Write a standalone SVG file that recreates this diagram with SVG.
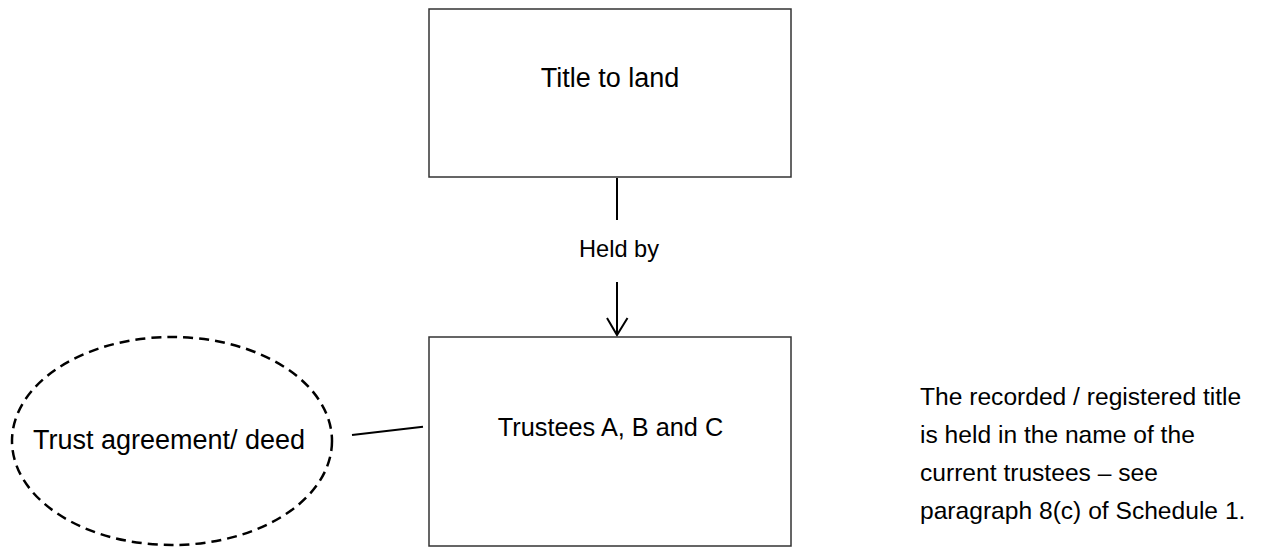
<svg xmlns="http://www.w3.org/2000/svg" width="1263" height="547" viewBox="0 0 1263 547">
<style>
.box{fill:#fff;stroke:#333;stroke-width:1.5}
.oval{fill:none;stroke:#000;stroke-width:2.5;stroke-dasharray:10 6}
.edge{fill:none;stroke:#000;stroke-width:2}
text{font-family:"Liberation Sans",Arial,sans-serif;fill:#000}
.c{text-anchor:middle}
</style>
<defs>
<marker id="arr" markerUnits="userSpaceOnUse" markerWidth="30" markerHeight="30" refX="12" refY="19" orient="auto-start-reverse" viewBox="0 0 24 22">
<path d="M1.5,1.5 L12,19 L22.5,1.5" fill="none" stroke="#000" stroke-width="2"/>
</marker>
</defs>
<rect width="1263" height="547" fill="#fff"/>
<g id="connectors">
<line class="edge" x1="617" y1="178" x2="617" y2="220"/>
<path class="edge" d="M617,282 L617,335"/>
<path class="edge" d="M607,318 L617,335 L627.5,318"/>
<line class="edge" x1="352" y1="435" x2="423" y2="426.7"/>
<text class="c" x="619" y="257" font-size="23.6">Held by</text>
</g>
<g id="title-to-land">
<rect class="box" x="429" y="9" width="362" height="168"/>
<text class="c" x="610" y="87" font-size="27">Title to land</text>
</g>
<g id="trustees">
<rect class="box" x="429" y="337" width="362" height="209"/>
<text class="c" x="610.5" y="436" font-size="25.3">Trustees A, B and C</text>
</g>
<g id="trust-agreement">
<ellipse class="oval" cx="172" cy="441" rx="160" ry="104"/>
<text class="c" x="169" y="449" font-size="27">Trust agreement/ deed</text>
</g>
<g id="note">
<text x="920" y="405" font-size="24.6">The recorded / registered title</text>
<text x="920" y="443" font-size="24.6">is held in the name of the</text>
<text x="920" y="481" font-size="24.6">current trustees – see</text>
<text x="920" y="519" font-size="24.6">paragraph 8(c) of Schedule 1.</text>
</g>
</svg>
